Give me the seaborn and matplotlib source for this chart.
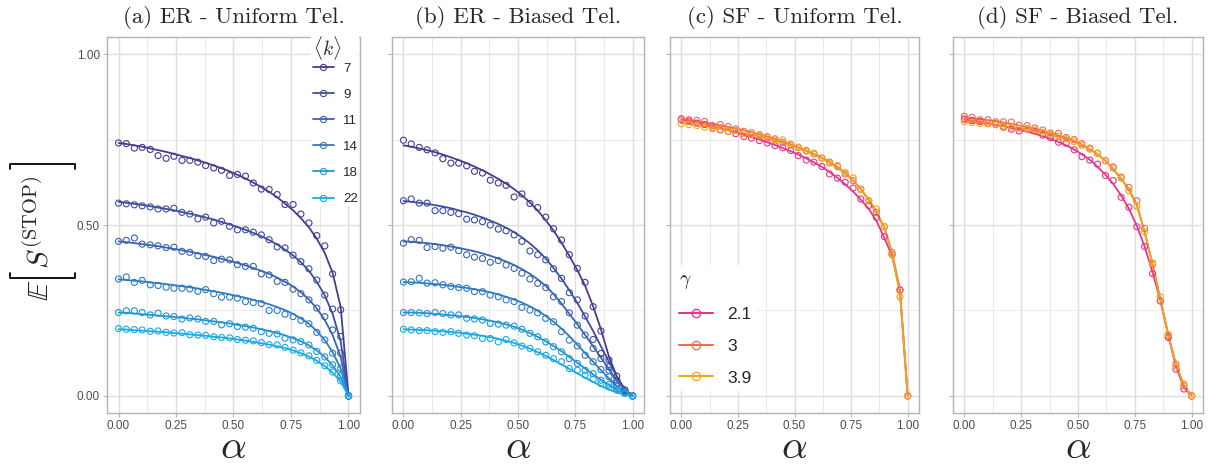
import numpy as np
import pandas as pd
import matplotlib
matplotlib.use("Agg")
import matplotlib.pyplot as plt
import seaborn as sns
from matplotlib.lines import Line2D

sns.set_theme(style="whitegrid")
plt.rcParams['font.family'] = ['Liberation Sans', 'DejaVu Sans']
plt.rcParams['mathtext.fontset'] = 'cm'

# alpha grid used by every series
alpha = [0.000, 0.034, 0.069, 0.103, 0.138, 0.172, 0.207, 0.241, 0.276, 0.310,
         0.345, 0.379, 0.414, 0.448, 0.483, 0.517, 0.552, 0.586, 0.621, 0.655,
         0.690, 0.724, 0.759, 0.793, 0.828, 0.862, 0.897, 0.931, 0.966, 1.000]

k_labels = ['7', '9', '11', '14', '18', '22']
k_colors = ['#4a3a90', '#3d4d9f', '#3a63b1', '#2e7cc3', '#1f95d8', '#16aaea']

gamma_labels = ['2.1', '3', '3.9']
gamma_colors = ['#e8348c', '#f06a50', '#f1a51c']

x_ticks = [0, 0.25, 0.5, 0.75, 1.0]
y_ticks = [0, 0.5, 1.0]

# (a) ER - uniform teleportation: fitted curves
er_uni_line = {
    '7':  [.740, .737, .733, .729, .724, .719, .714, .708, .702, .696, .689, .682, .674, .666, .657,
           .647, .636, .624, .611, .597, .581, .563, .543, .520, .493, .460, .418, .360, .260, 0],
    '9':  [.568, .565, .562, .559, .555, .551, .547, .543, .538, .533, .528, .522, .516, .509, .502,
           .494, .486, .477, .467, .456, .443, .428, .411, .391, .366, .334, .294, .240, .160, 0],
    '11': [.452, .450, .447, .444, .441, .438, .434, .430, .426, .422, .417, .412, .407, .401, .395,
           .389, .382, .374, .366, .357, .346, .334, .320, .303, .282, .256, .222, .178, .114, 0],
    '14': [.341, .339, .337, .335, .332, .330, .327, .324, .321, .318, .314, .310, .306, .302, .297,
           .292, .287, .281, .275, .268, .260, .251, .240, .227, .211, .190, .163, .128, .080, 0],
    '18': [.244, .243, .241, .239, .237, .235, .233, .231, .229, .226, .224, .221, .218, .215, .212,
           .208, .204, .200, .195, .190, .184, .177, .169, .160, .148, .133, .114, .089, .056, 0],
    '22': [.195, .194, .192, .191, .189, .188, .186, .184, .182, .180, .178, .176, .173, .171, .168,
           .165, .162, .158, .154, .150, .145, .140, .133, .125, .115, .103, .087, .068, .042, 0],
}
# (a) simulated points
er_uni_pts = {
    '7':  [.740, .738, .725, .727, .721, .703, .695, .701, .689, .689, .684, .674, .667, .660, .645,
           .648, .643, .623, .605, .604, .589, .560, .560, .532, .506, .469, .439, .357, .252, 0],
    '9':  [.564, .562, .559, .556, .553, .547, .547, .549, .537, .532, .518, .523, .506, .511, .496,
           .486, .486, .479, .471, .457, .436, .433, .412, .393, .372, .339, .295, .254, .174, 0],
    '11': [.452, .455, .462, .444, .442, .439, .434, .435, .423, .420, .410, .408, .396, .400, .398,
           .384, .379, .379, .357, .354, .335, .332, .312, .299, .281, .257, .232, .193, .125, 0],
    '14': [.342, .348, .332, .338, .325, .323, .318, .315, .315, .313, .306, .311, .299, .289, .289,
           .286, .276, .273, .270, .250, .250, .239, .232, .221, .211, .186, .164, .125, .081, 0],
    '18': [.244, .249, .249, .244, .237, .242, .234, .232, .225, .228, .225, .218, .218, .208, .211,
           .203, .201, .198, .188, .183, .181, .169, .164, .159, .149, .130, .114, .091, .059, 0],
    '22': [.197, .195, .194, .193, .189, .190, .186, .184, .185, .179, .178, .177, .173, .171, .170,
           .165, .163, .161, .156, .150, .149, .142, .134, .126, .117, .104, .088, .070, .044, 0],
}

# (b) ER - biased teleportation
er_bias_line = {
    '7':  [.733, .729, .724, .719, .713, .706, .698, .690, .681, .671, .660, .648, .635, .621, .605,
           .587, .566, .542, .514, .484, .448, .410, .368, .322, .262, .195, .115, .058, .018, 0],
    '9':  [.570, .568, .565, .562, .558, .554, .549, .543, .537, .530, .522, .513, .503, .492, .479,
           .464, .446, .426, .402, .374, .343, .309, .272, .232, .190, .145, .100, .057, .020, 0],
    '11': [.452, .451, .449, .447, .444, .441, .437, .433, .428, .423, .417, .410, .402, .393, .383,
           .371, .357, .341, .322, .298, .270, .240, .210, .178, .145, .112, .078, .045, .016, 0],
    '14': [.333, .332, .331, .329, .327, .325, .322, .319, .316, .312, .308, .303, .297, .290, .282,
           .273, .262, .249, .234, .217, .197, .175, .150, .125, .100, .075, .051, .029, .010, 0],
    '18': [.244, .244, .243, .242, .240, .238, .236, .234, .231, .228, .224, .220, .215, .209, .202,
           .194, .184, .173, .160, .146, .131, .114, .097, .080, .063, .047, .032, .018, .006, 0],
    '22': [.195, .194, .193, .192, .191, .189, .187, .185, .182, .179, .176, .172, .167, .161, .155,
           .147, .138, .128, .117, .105, .092, .079, .066, .053, .041, .029, .019, .010, .004, 0],
}
er_bias_pts = {
    '7':  [.748, .737, .727, .720, .711, .694, .681, .681, .673, .657, .652, .631, .623, .616, .582,
           .591, .563, .551, .523, .489, .456, .413, .373, .332, .261, .190, .105, .058, .017, 0],
    '9':  [.571, .576, .564, .564, .542, .542, .537, .533, .517, .515, .510, .500, .488, .483, .471,
           .452, .424, .413, .398, .372, .344, .302, .281, .234, .165, .124, .085, .046, .017, 0],
    '11': [.447, .457, .455, .434, .437, .432, .435, .425, .413, .406, .402, .391, .396, .383, .373,
           .359, .342, .329, .317, .290, .276, .243, .207, .178, .139, .109, .075, .038, .017, 0],
    '14': [.333, .334, .344, .330, .331, .325, .320, .317, .315, .305, .305, .295, .290, .281, .276,
           .259, .251, .243, .227, .217, .188, .163, .146, .119, .100, .077, .056, .031, .012, 0],
    '18': [.244, .244, .243, .241, .244, .241, .237, .237, .227, .225, .222, .212, .210, .207, .204,
           .195, .183, .173, .158, .144, .129, .109, .095, .075, .065, .046, .034, .022, .009, 0],
    '22': [.195, .193, .191, .191, .188, .186, .188, .183, .178, .176, .168, .168, .158, .165, .155,
           .146, .139, .129, .119, .109, .100, .080, .075, .061, .049, .036, .026, .017, .007, 0],
}

# (c) SF - uniform teleportation
sf_uni_line = {
    '2.1': [.808, .804, .799, .794, .789, .783, .777, .771, .764, .757, .750, .742, .734, .725, .716,
            .706, .695, .683, .670, .655, .638, .619, .598, .574, .547, .512, .462, .410, .305, 0],
    '3':   [.810, .807, .804, .800, .796, .792, .787, .782, .777, .771, .765, .759, .752, .744, .736,
            .727, .718, .708, .697, .684, .670, .652, .631, .605, .573, .535, .492, .420, .310, 0],
    '3.9': [.798, .795, .792, .789, .785, .781, .777, .773, .768, .764, .759, .753, .747, .740, .733,
            .725, .716, .706, .695, .682, .667, .650, .630, .605, .575, .540, .494, .415, .298, 0],
}
sf_uni_pts = {
    '2.1': [.808, .804, .798, .794, .784, .778, .774, .767, .759, .754, .747, .740, .732, .726, .718,
            .703, .690, .684, .671, .649, .637, .625, .608, .576, .557, .522, .466, .413, .310, 0],
    '3':   [.811, .808, .806, .803, .791, .794, .788, .781, .774, .770, .764, .757, .752, .742, .734,
            .726, .718, .708, .696, .684, .671, .649, .630, .605, .571, .537, .495, .420, .310, 0],
    '3.9': [.796, .794, .791, .786, .782, .780, .774, .776, .767, .764, .762, .759, .749, .749, .737,
            .728, .716, .710, .696, .681, .674, .654, .638, .603, .571, .547, .495, .413, .290, 0],
}

# (d) SF - biased teleportation
sf_bias_line = {
    '2.1': [.808, .805, .801, .797, .793, .789, .784, .779, .773, .767, .760, .752, .743, .733, .721,
            .707, .691, .670, .647, .620, .586, .548, .497, .437, .362, .280, .178, .085, .025, 0],
    '3':   [.815, .812, .810, .807, .804, .800, .796, .791, .786, .781, .775, .769, .762, .755, .746,
            .735, .722, .707, .688, .664, .635, .605, .560, .480, .385, .285, .180, .093, .030, 0],
    '3.9': [.801, .799, .797, .795, .793, .790, .787, .783, .779, .774, .769, .764, .758, .751, .743,
            .733, .721, .706, .688, .664, .636, .602, .556, .480, .387, .285, .178, .092, .032, 0],
}
sf_bias_pts = {
    '2.1': [.810, .806, .803, .797, .795, .786, .780, .775, .781, .775, .763, .755, .742, .739, .720,
            .700, .690, .678, .645, .630, .581, .552, .495, .437, .358, .278, .171, .078, .020, 0],
    '3':   [.818, .815, .808, .808, .802, .802, .801, .792, .791, .784, .778, .769, .768, .756, .750,
            .738, .725, .710, .688, .670, .640, .610, .571, .490, .385, .278, .176, .093, .030, 0],
    '3.9': [.803, .800, .797, .796, .793, .790, .786, .783, .781, .778, .771, .764, .760, .752, .744,
            .733, .722, .709, .688, .666, .637, .600, .555, .480, .389, .290, .180, .087, .035, 0],
}


def long_df(d):
    rows = []
    for key, vals in d.items():
        for a, v in zip(alpha, vals):
            rows.append((key, a, v))
    return pd.DataFrame(rows, columns=['grp', 'alpha', 'S'])


W, H = 1218, 465
fig = plt.figure(figsize=(W / 100, H / 100), dpi=100)
lefts = [107, 392, 670, 953]
widths = [253, 252, 249, 250]
titles = ['(a) ER - Uniform Tel.', '(b) ER - Biased Tel.',
          '(c) SF - Uniform Tel.', '(d) SF - Biased Tel.']
panels = [(er_uni_line, er_uni_pts, k_labels, k_colors),
          (er_bias_line, er_bias_pts, k_labels, k_colors),
          (sf_uni_line, sf_uni_pts, gamma_labels, gamma_colors),
          (sf_bias_line, sf_bias_pts, gamma_labels, gamma_colors)]

axes = []
for i, (line_d, pts_d, labs, cols) in enumerate(panels):
    ax = fig.add_axes([lefts[i] / W, 52 / H, widths[i] / W, 376 / H])
    axes.append(ax)
    pal = dict(zip(labs, cols))
    ldf = long_df(line_d)
    pdf = long_df(pts_d)
    sns.lineplot(data=ldf, x='alpha', y='S', hue='grp', hue_order=labs, palette=pal,
                 linewidth=1.3, legend=False, ax=ax, zorder=3)
    sns.scatterplot(data=pdf, x='alpha', y='S', hue='grp', hue_order=labs, palette=pal,
                    s=19, marker='o', legend=False, ax=ax, zorder=4)
    pts = ax.collections[-1]
    pts.set_edgecolors(pts.get_facecolors())
    pts.set_facecolors('none')
    pts.set_linewidths(0.8)

    ax.set_xlim(-0.05, 1.05)
    ax.set_ylim(-0.05, 1.05)
    ax.set_xticks(x_ticks)
    ax.set_xticks([0.125, 0.375, 0.625, 0.875], minor=True)
    ax.set_yticks(y_ticks)
    ax.set_yticks([0.25, 0.75], minor=True)
    ax.set_xticklabels(['%.2f' % t for t in x_ticks])
    ax.set_facecolor('white')
    ax.grid(which='major', color='#dedede', linewidth=1.0)
    ax.grid(which='minor', color='#e6e6e6', linewidth=0.6)
    ax.set_axisbelow(True)
    for sp in ax.spines.values():
        sp.set_color('#b3b3b3')
        sp.set_linewidth(1.0)
    ax.tick_params(axis='both', which='major', length=3, width=0.8, color='#b3b3b3',
                   labelsize=8.5, labelcolor='#4d4d4d', pad=2, bottom=True, left=True)
    ax.tick_params(which='minor', length=0)
    if i == 0:
        ax.set_yticklabels(['%.2f' % t for t in y_ticks])
    else:
        ax.set_yticklabels([])
    ax.set_ylabel('')
    ax.set_xlabel(r'$\alpha$', fontsize=29, labelpad=-3)
    ax.set_title(titles[i], fontsize=16.5, family='cmr10', pad=10)

# y label: E[ S^(STOP) ] written vertically, with thin square brackets
fig.text(40 / W, 1 - 290 / H, r'$\mathbb{E}$', rotation=90, ha='center', va='center', fontsize=21)
fig.text(39 / W, 1 - 222 / H, r'$S^{(\mathrm{STOP})}$', rotation=90, ha='center', va='center',
         fontsize=21)
for yb, tip in [(277.5, -5), (164.5, 5)]:
    fig.add_artist(Line2D([10 / W, 10 / W, 75 / W, 75 / W],
                          [1 - (yb + tip) / H, 1 - yb / H, 1 - yb / H, 1 - (yb + tip) / H],
                          transform=fig.transFigure, color='black', lw=1.3))

# legends
h_k = [Line2D([], [], color=c, lw=1.3, marker='o', ms=4.5, mfc='none', mew=0.8) for c in k_colors]
leg = axes[0].legend(h_k, k_labels, title=r'$\langle k\rangle$', loc='upper right',
                     bbox_to_anchor=(1.0, 1.012), fontsize=9.5, title_fontsize=14,
                     frameon=True, facecolor='white', edgecolor='none', framealpha=1,
                     handlelength=1.6, labelspacing=1.05, borderaxespad=0.05, borderpad=0.1,
                     handletextpad=0.7)
leg._legend_box.align = 'left'
leg._legend_box.sep = 0

h_g = [Line2D([], [], color=c, lw=1.5, marker='o', ms=6, mfc='none', mew=0.9) for c in gamma_colors]
leg2 = axes[2].legend(h_g, gamma_labels, title=r'$\gamma$', loc='lower left',
                      bbox_to_anchor=(0.0, 0.05), fontsize=12.5, title_fontsize=14,
                      frameon=True, facecolor='white', edgecolor='none', framealpha=1,
                      handlelength=2.0, labelspacing=0.95, borderaxespad=0.2, borderpad=0.3,
                      handletextpad=0.8)
leg2._legend_box.align = 'left'

fig.savefig('out.png', dpi=100)
